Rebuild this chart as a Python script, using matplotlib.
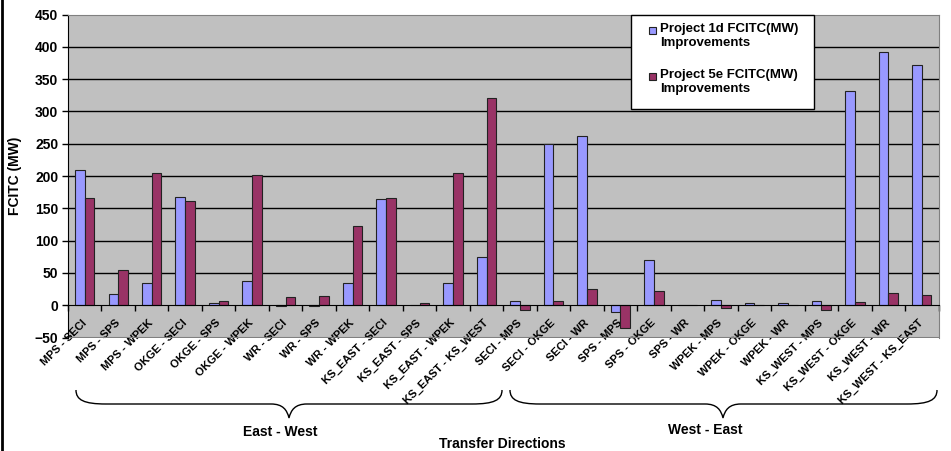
import numpy as np
import matplotlib
matplotlib.use('Agg')
import matplotlib.pyplot as plt
from matplotlib.path import Path
from matplotlib.patches import PathPatch, Rectangle
from matplotlib.lines import Line2D

# data
directions = ['MPS - SECI', 'MPS - SPS', 'MPS - WPEK', 'OKGE - SECI', 'OKGE - SPS',
              'OKGE - WPEK', 'WR - SECI', 'WR - SPS', 'WR - WPEK', 'KS_EAST - SECI',
              'KS_EAST - SPS', 'KS_EAST - WPEK', 'KS_EAST - KS_WEST',
              'SECI - MPS', 'SECI - OKGE', 'SECI - WR', 'SPS - MPS', 'SPS - OKGE',
              'SPS - WR', 'WPEK - MPS', 'WPEK - OKGE', 'WPEK - WR', 'KS_WEST - MPS',
              'KS_WEST - OKGE', 'KS_WEST - WR', 'KS_WEST - KS_EAST']
project_1d = [209, 17, 34, 168, 3, 38, -1, -1, 35, 165, 1, 35, 74,
              7, 250, 262, -11, 70, 1, 8, 3, 3, 6, 332, 392, 372]
project_5e = [166, 55, 204, 161, 6, 202, 12, 14, 123, 166, 4, 204, 320,
              -8, 6, 25, -35, 22, 1, -5, 0, 0, -8, 5, 19, 16]
series_names = ['Project 1d FCITC(MW)\nImprovements', 'Project 5e FCITC(MW)\nImprovements']
groups = ['East - West', 'West - East']

plt.rcParams['font.family'] = ['Liberation Sans', 'DejaVu Sans']
plt.rcParams['font.weight'] = 'bold'

W, H = 951, 451
fig = plt.figure(figsize=(W / 100, H / 100), dpi=100)


def fx(px):
    return px / W


def fy(py):
    return 1 - py / H


ax = fig.add_axes([fx(68), fy(337.5), (938.5 - 68) / W, (337.5 - 14.5) / H])
ax.set_facecolor('#C0C0C0')

x = np.arange(len(directions))
w = 0.29
ax.bar(x - w / 2, project_1d, w, color='#9999FF', edgecolor='#222222', linewidth=0.8, zorder=3)
ax.bar(x + w / 2, project_5e, w, color='#993366', edgecolor='#222222', linewidth=0.8, zorder=3)

ax.set_xlim(-0.5, len(directions) - 0.5)
ax.set_ylim(-50, 450)
ax.set_yticks(np.arange(-50, 451, 50))
ax.hlines(np.arange(50, 401, 50), -0.5, len(directions) - 0.5, color='black', linewidth=1, zorder=1)

for s in ['top', 'right']:
    ax.spines[s].set_color('#808080')
ax.spines['left'].set_color('black')
ax.spines['bottom'].set_position(('data', 0))
ax.spines['bottom'].set_color('black')
ax.spines['bottom'].set_zorder(4)
ax.axhline(-50, color='#808080', linewidth=1.5, zorder=2)

ax.tick_params(axis='y', direction='out', length=4, width=1, labelsize=10, pad=3)
ax.set_xticks(x)
ax.set_xticklabels(directions, rotation=45, ha='right', va='center',
                   rotation_mode='anchor', fontsize=8)
ax.tick_params(axis='x', which='major', length=0, pad=11.5)
ax.set_xticks(np.arange(-0.5, len(directions), 1), minor=True)
ax.tick_params(axis='x', which='minor', direction='out', length=4, width=1)

fig.text(fx(15), fy(176), 'FCITC (MW)', rotation=90, ha='center', va='center', fontsize=10)

# legend box drawn by hand to keep marker on the first line
fig.add_artist(Rectangle((fx(631), fy(109)), fx(814) - fx(631), fy(15) - fy(109),
                         transform=fig.transFigure, facecolor='white', edgecolor='black',
                         linewidth=1, zorder=5))
for i, (name, col) in enumerate(zip(series_names, ['#9999FF', '#993366'])):
    top = 27 + i * 46
    fig.add_artist(Rectangle((fx(649), fy(top + 7)), fx(656) - fx(649), fy(top) - fy(top + 7),
                             transform=fig.transFigure, facecolor=col, edgecolor='#222222',
                             linewidth=0.8, zorder=6))
    fig.text(fx(660), fy(top - 4), name, ha='left', va='top', fontsize=9.5,
             linespacing=1.25, zorder=6)


def brace(x0, x1, xm, yend=390, ybase=404, ytip=418):
    pts = [(x0, yend), (x0, 400), (x0 + 8, ybase), (x0 + 30, ybase),
           (xm - 18, ybase),
           (xm - 6, ybase), (xm - 2, 410), (xm, ytip),
           (xm + 2, 410), (xm + 6, ybase), (xm + 18, ybase),
           (x1 - 30, ybase),
           (x1 - 8, ybase), (x1, 400), (x1, yend)]
    codes = [Path.MOVETO, Path.CURVE4, Path.CURVE4, Path.CURVE4,
             Path.LINETO,
             Path.CURVE4, Path.CURVE4, Path.CURVE4,
             Path.CURVE4, Path.CURVE4, Path.CURVE4,
             Path.LINETO,
             Path.CURVE4, Path.CURVE4, Path.CURVE4]
    verts = [(fx(a), fy(b)) for a, b in pts]
    fig.add_artist(PathPatch(Path(verts, codes), transform=fig.transFigure,
                             facecolor='none', edgecolor='black', linewidth=1))


brace(76, 502, 289)
brace(510, 937, 723)
fig.text(fx(280), fy(432), groups[0], ha='center', va='center', fontsize=10)
fig.text(fx(705), fy(430), groups[1], ha='center', va='center', fontsize=10)
fig.text(fx(502), fy(444), 'Transfer Directions', ha='center', va='center', fontsize=10)

fig.add_artist(Line2D([fx(2), fx(2)], [0, 1], transform=fig.transFigure, color='black', linewidth=2))

fig.savefig('out.png', dpi=100)
